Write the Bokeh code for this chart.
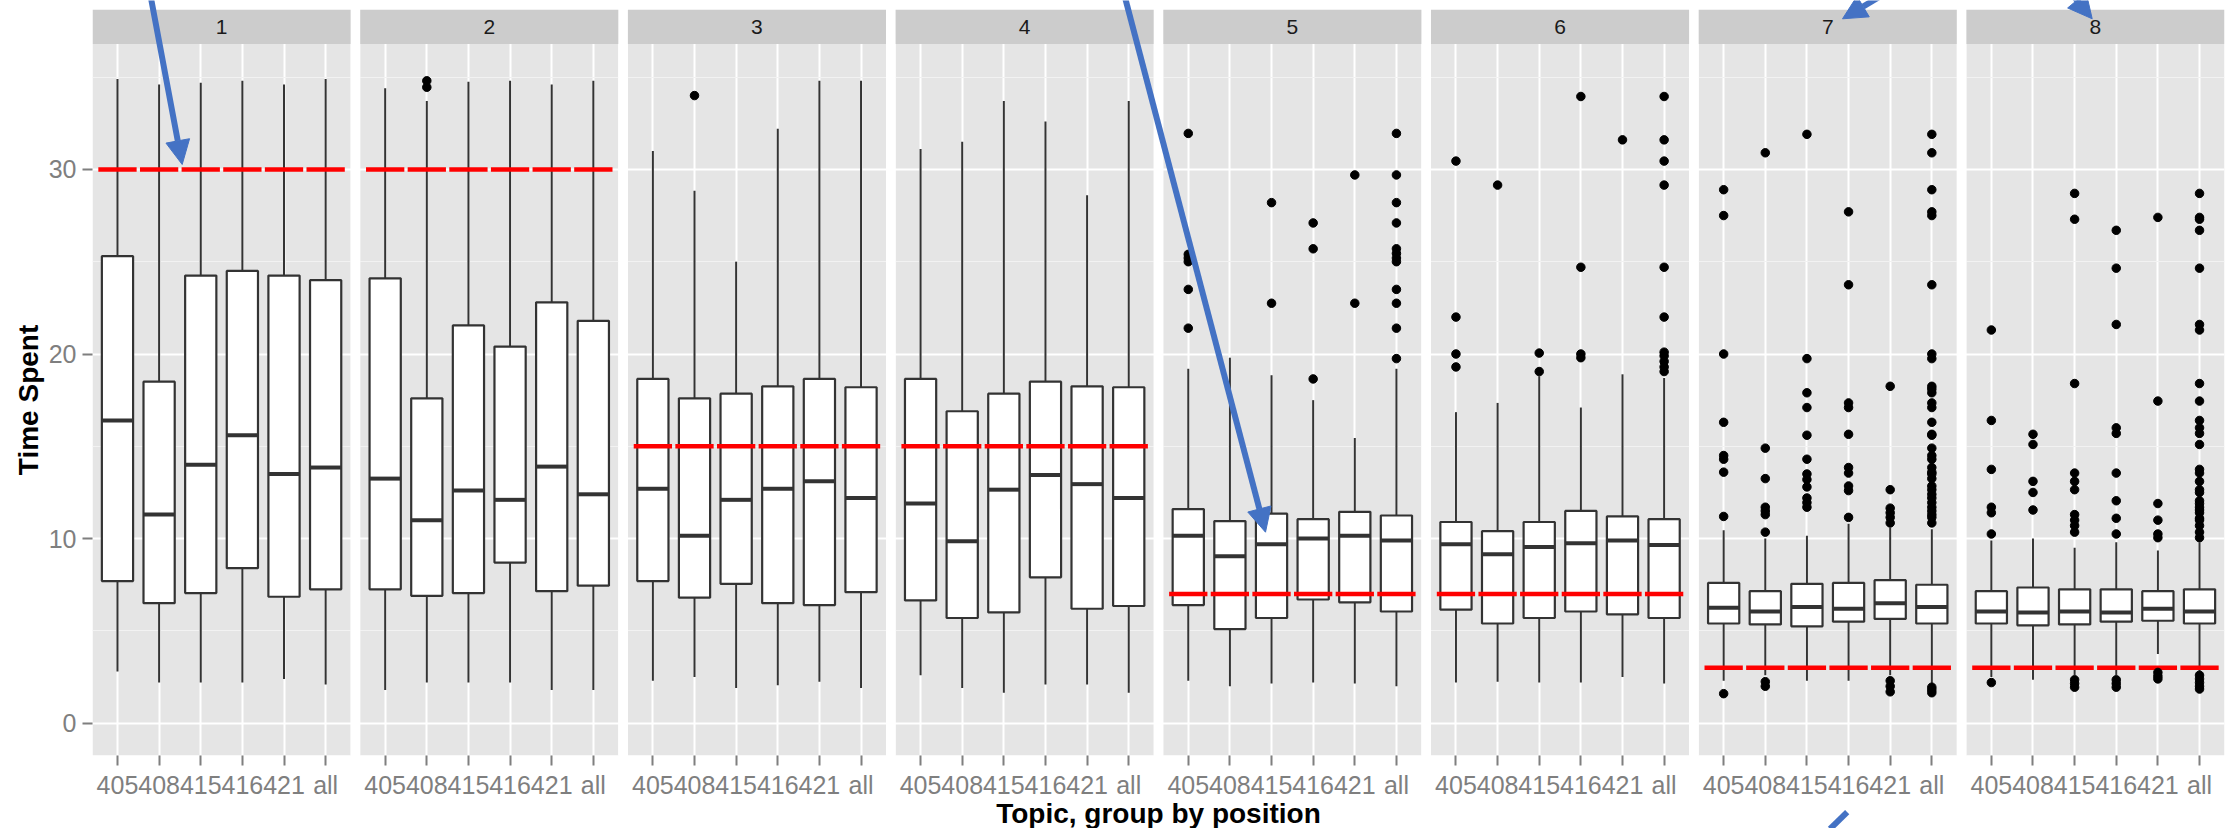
from bokeh.plotting import figure
from bokeh.models import ColumnDataSource, Range1d, FixedTicker, Arrow, NormalHead, Title
from bokeh.core.properties import value
from bokeh.embed import file_html
from bokeh.resources import INLINE

# ---------------- data ----------------
panels = ["1", "2", "3", "4", "5", "6", "7", "8"]
topics = ["405", "408", "415", "416", "421", "all"]
reference_time = [30, 30, 15, 15, 7, 7, 3, 3]

whisker_low = [
    [2.8, 2.2, 2.2, 2.2, 2.4, 2.1],
    [1.8, 2.2, 2.2, 2.2, 1.8, 1.8],
    [2.3, 2.5, 1.9, 2.05, 2.25, 1.9],
    [2.6, 1.9, 1.65, 2.1, 2.1, 1.65],
    [2.3, 2.0, 2.15, 2.2, 2.15, 2.0],
    [2.2, 2.25, 2.2, 2.2, 2.5, 2.15],
    [2.3, 2.6, 2.3, 2.3, 2.6, 2.1],
    [2.5, 2.35, 2.6, 2.6, 3.75, 2.8],
]
q1 = [
    [7.7, 6.5, 7.05, 8.4, 6.85, 7.25],
    [7.25, 6.9, 7.05, 8.7, 7.15, 7.45],
    [7.7, 6.8, 7.55, 6.5, 6.4, 7.1],
    [6.65, 5.7, 6.0, 7.9, 6.2, 6.35],
    [6.4, 5.1, 5.7, 6.7, 6.55, 6.05],
    [6.15, 5.4, 5.7, 6.05, 5.9, 5.7],
    [5.4, 5.35, 5.25, 5.5, 5.65, 5.4],
    [5.4, 5.3, 5.35, 5.5, 5.55, 5.4],
]
median = [
    [16.4, 11.3, 14.0, 15.6, 13.5, 13.85],
    [13.25, 11.0, 12.6, 12.1, 13.9, 12.4],
    [12.7, 10.15, 12.1, 12.7, 13.1, 12.2],
    [11.9, 9.85, 12.65, 13.45, 12.95, 12.2],
    [10.15, 9.05, 9.7, 10.0, 10.15, 9.9],
    [9.7, 9.15, 9.55, 9.75, 9.9, 9.65],
    [6.25, 6.05, 6.3, 6.2, 6.5, 6.3],
    [6.05, 6.0, 6.05, 6.0, 6.2, 6.05],
]
q3 = [
    [25.3, 18.5, 24.25, 24.5, 24.25, 24.0],
    [24.1, 17.6, 21.55, 20.4, 22.8, 21.8],
    [18.65, 17.6, 17.85, 18.25, 18.65, 18.2],
    [18.65, 16.9, 17.85, 18.5, 18.25, 18.2],
    [11.6, 10.95, 11.35, 11.05, 11.45, 11.25],
    [10.9, 10.4, 10.9, 11.5, 11.2, 11.05],
    [7.6, 7.15, 7.55, 7.6, 7.75, 7.5],
    [7.15, 7.35, 7.25, 7.25, 7.15, 7.25],
]
whisker_high = [
    [34.9, 34.6, 34.7, 34.8, 34.6, 34.9],
    [34.4, 33.7, 34.75, 34.8, 34.6, 34.8],
    [31.0, 28.85, 25.0, 32.2, 34.8, 34.8],
    [31.1, 31.5, 33.7, 32.6, 28.6, 33.7],
    [19.2, 19.8, 18.85, 17.5, 15.45, 19.2],
    [16.85, 17.35, 18.8, 17.1, 18.9, 18.7],
    [10.45, 10.0, 10.15, 10.8, 10.6, 10.5],
    [9.9, 10.0, 9.5, 9.8, 9.35, 9.8],
]
outliers = [
    [[], [], [], [], [], []],
    [[], [34.45, 34.8], [], [], [], []],
    [[], [34.0], [], [], [], []],
    [[], [], [], [], [], []],
    [[31.95, 25.4, 25.2, 25.0, 23.5, 21.4], [], [28.2, 22.75], [27.1, 25.7, 18.65],
     [29.7, 22.75],
     [31.95, 29.7, 28.2, 27.1, 25.7, 25.45, 25.2, 25.0, 23.5, 22.75, 21.4, 19.75]],
    [[30.45, 22.0, 20.0, 19.3], [29.15], [20.05, 19.05], [33.95, 24.7, 20.0, 19.8], [31.6],
     [33.95, 31.6, 30.45, 29.15, 24.7, 22.0, 20.1, 19.9, 19.6, 19.3, 19.05]],
    [[28.9, 27.5, 20.0, 16.3, 14.5, 14.3, 13.6, 11.2, 1.6],
     [30.9, 14.9, 13.25, 11.7, 11.5, 11.3, 10.35, 2.25, 2.0],
     [31.9, 19.75, 17.9, 17.1, 15.6, 14.3, 13.5, 13.2, 12.8, 12.2, 11.95, 11.7],
     [27.7, 23.75, 17.35, 17.1, 15.65, 13.85, 13.55, 12.85, 12.6, 11.15],
     [18.25, 12.65, 11.65, 11.4, 11.15, 10.85, 2.3, 2.0, 1.7],
     [31.9, 30.9, 28.9, 27.7, 27.5, 23.75, 20.0, 19.75, 18.25, 18.1, 17.9, 17.35, 17.1,
      16.3, 15.65, 15.6, 14.9, 14.5, 14.3, 13.85, 13.6, 13.5, 13.25, 12.85, 12.65, 12.4,
      12.2, 11.95, 11.7, 11.5, 11.3, 11.15, 10.85, 1.95, 1.8, 1.65]],
    [[21.3, 16.4, 13.75, 11.7, 11.4, 10.25, 2.2],
     [15.65, 15.1, 13.1, 12.5, 11.55],
     [28.7, 27.3, 18.4, 13.55, 13.1, 12.65, 11.3, 11.0, 10.7, 10.35, 2.35, 2.15, 1.95],
     [26.7, 24.65, 21.6, 16.0, 15.7, 13.55, 12.05, 11.1, 10.25, 2.35, 2.15, 1.95],
     [27.4, 17.45, 11.9, 11.0, 10.25, 10.05, 2.75, 2.55, 2.4],
     [28.7, 27.4, 27.3, 26.7, 24.65, 21.6, 21.3, 18.4, 17.45, 16.4, 16.0, 15.7, 15.1,
      13.75, 13.55, 13.1, 12.65, 12.5, 12.05, 11.9, 11.7, 11.55, 11.4, 11.1, 11.0, 10.7,
      10.35, 10.05, 2.6, 2.4, 2.2, 2.0, 1.85]],
]

y_ticks = [0, 10, 20, 30]
y_minor = [5, 15, 25, 35]

# ---------------- layout / style ----------------
PANEL_SPAN = 6.2          # 6 categories + 0.6 expansion each side
GAP = 0.23
STRIDE = PANEL_SPAN + GAP
X_END = len(panels) * PANEL_SPAN + (len(panels) - 1) * GAP
Y_MIN, PANEL_TOP, STRIP_TOP, Y_MAX = -1.75, 36.8, 38.65, 39.15
FRAME_W, FRAME_H = 2132, 755
BOX_W, REF_W = 0.75, 0.92
BLUE = "#4472C4"
FONT = "Liberation Sans"
TITLE_PX = 28


def xpos(k, j):
    return round(k * STRIDE + 0.6 + j, 4)


def px2x(px):
    return (px - 92) * X_END / FRAME_W


def px2y(py):
    return Y_MAX - py * (Y_MAX - Y_MIN) / FRAME_H


rows = dict(x=[], lo=[], q1=[], med=[], q3=[], hi=[], ref=[], xl=[], xr=[], rl=[], rr=[])
ox, oy = [], []
for k in range(len(panels)):
    for j in range(len(topics)):
        x = xpos(k, j)
        rows["x"].append(x)
        rows["lo"].append(whisker_low[k][j])
        rows["q1"].append(q1[k][j])
        rows["med"].append(median[k][j])
        rows["q3"].append(q3[k][j])
        rows["hi"].append(whisker_high[k][j])
        rows["ref"].append(reference_time[k])
        rows["xl"].append(x - BOX_W / 2)
        rows["xr"].append(x + BOX_W / 2)
        rows["rl"].append(x - REF_W / 2)
        rows["rr"].append(x + REF_W / 2)
        for v in outliers[k][j]:
            ox.append(x)
            oy.append(v)
src = ColumnDataSource(rows)
osrc = ColumnDataSource(dict(x=ox, y=oy))

p = figure(frame_width=FRAME_W, frame_height=FRAME_H,
           x_range=Range1d(0, X_END), y_range=Range1d(Y_MIN, Y_MAX),
           output_backend="svg", toolbar_location=None, title=None,
           min_border_left=92, min_border_right=3, min_border_top=0, min_border_bottom=0,
           background_fill_color="white", border_fill_color="white",
           outline_line_color=None)

# panel backgrounds (below grid)
pl = [k * STRIDE for k in range(len(panels))]
pr = [k * STRIDE + PANEL_SPAN for k in range(len(panels))]
bg = p.quad(left=pl, right=pr, bottom=Y_MIN, top=PANEL_TOP,
            fill_color="#E5E5E5", line_color=None)
bg.level = "image"

# white gaps between panels (cover grid lines)
gl = [k * STRIDE + PANEL_SPAN for k in range(len(panels) - 1)]
gr = [(k + 1) * STRIDE for k in range(len(panels) - 1)]
p.quad(left=gl, right=gr, bottom=Y_MIN, top=Y_MAX, fill_color="white", line_color=None)
# white area above strips
p.quad(left=[0], right=[X_END], bottom=[STRIP_TOP], top=[Y_MAX], fill_color="white", line_color=None)
# strips
p.quad(left=pl, right=pr, bottom=PANEL_TOP, top=STRIP_TOP, fill_color="#CCCCCC", line_color=None)
p.text(x=[(a + b) / 2 for a, b in zip(pl, pr)], y=[(PANEL_TOP + STRIP_TOP) / 2] * len(panels),
       text=panels, text_align="center", text_baseline="middle",
       text_font=value(FONT), text_font_size="21px", text_color="#1A1A1A")

# grids
xt = FixedTicker(ticks=rows["x"])
p.xgrid.ticker = xt
p.xgrid.grid_line_color = "white"
p.xgrid.grid_line_width = 2
yt = FixedTicker(ticks=y_ticks, minor_ticks=y_minor)
p.ygrid.ticker = yt
p.ygrid.grid_line_color = "white"
p.ygrid.grid_line_width = 2
p.ygrid.minor_grid_line_color = "#F2F2F2"
p.ygrid.minor_grid_line_width = 1

# boxplots
LC = "#333333"
p.segment(x0="x", x1="x", y0="q3", y1="hi", source=src, line_color=LC, line_width=2)
p.segment(x0="x", x1="x", y0="q1", y1="lo", source=src, line_color=LC, line_width=2)
p.vbar(x="x", width=BOX_W, bottom="q1", top="q3", source=src,
       fill_color="white", line_color=LC, line_width=2.2)
p.segment(x0="xl", x1="xr", y0="med", y1="med", source=src, line_color=LC, line_width=4)
p.segment(x0="rl", x1="rr", y0="ref", y1="ref", source=src, line_color="#FF0000",
          line_width=4.5, line_cap="butt")
p.scatter(x="x", y="y", source=osrc, size=8.5, fill_color="black", line_color="black")

# axes
p.xaxis.ticker = xt
p.xaxis.major_label_overrides = {x: topics[i % len(topics)] for i, x in enumerate(rows["x"])}
p.yaxis.ticker = FixedTicker(ticks=y_ticks)
for ax in (p.xaxis[0], p.yaxis[0]):
    ax.axis_line_color = None
    ax.major_tick_line_color = "#7F7F7F"
    ax.major_tick_line_width = 2
    ax.major_tick_in = 0
    ax.major_tick_out = 10
    ax.minor_tick_line_color = None
    ax.major_label_text_color = "#7F7F7F"
    ax.major_label_text_font = FONT
    ax.major_label_text_font_size = "25px"
    ax.axis_label_text_font = FONT
    ax.axis_label_text_font_style = "bold"
    ax.axis_label_text_font_size = f"{TITLE_PX}px"
    ax.axis_label_text_color = "black"
p.xaxis.axis_label = "Topic, group by position"
p.xaxis.major_label_standoff = 5
p.yaxis.major_label_standoff = 6
p.xaxis.axis_label_standoff = -4

# y title, centred on the panel area (below the strips):
# bottom-aligned with an offset so that its middle sits at the panel middle
panel_mid_px = (Y_MAX - (Y_MIN + PANEL_TOP) / 2) * FRAME_H / (Y_MAX - Y_MIN)
title_len_px = 5.39 * TITLE_PX          # width of "Time Spent" in Arial/Liberation bold
p.add_layout(Title(text="Time Spent", align="left",
                   offset=FRAME_H - (panel_mid_px + title_len_px / 2),
                   standoff=4, text_font=FONT, text_font_style="bold",
                   text_font_size=f"{TITLE_PX}px", text_color="black"), "left")

# blue annotation arrows (pixel positions on the page)
arrows_px = [
    (150, -5, 181.7, 164),
    (1124, -5, 1265, 531.7),
    (1898, -15, 1842, 18.3),
    (2060, -20, 2091.7, 18.3),
    (1797, 860, 1846.7, 811.7),
]

for sx, sy, ex, ey in arrows_px:
    p.add_layout(Arrow(x_start=px2x(sx), y_start=px2y(sy), x_end=px2x(ex), y_end=px2y(ey),
                       line_color=BLUE, line_width=6,
                       end=NormalHead(size=24, fill_color=BLUE, line_color=BLUE, line_width=1)))

open("out.html", "w").write(file_html(p, INLINE))
